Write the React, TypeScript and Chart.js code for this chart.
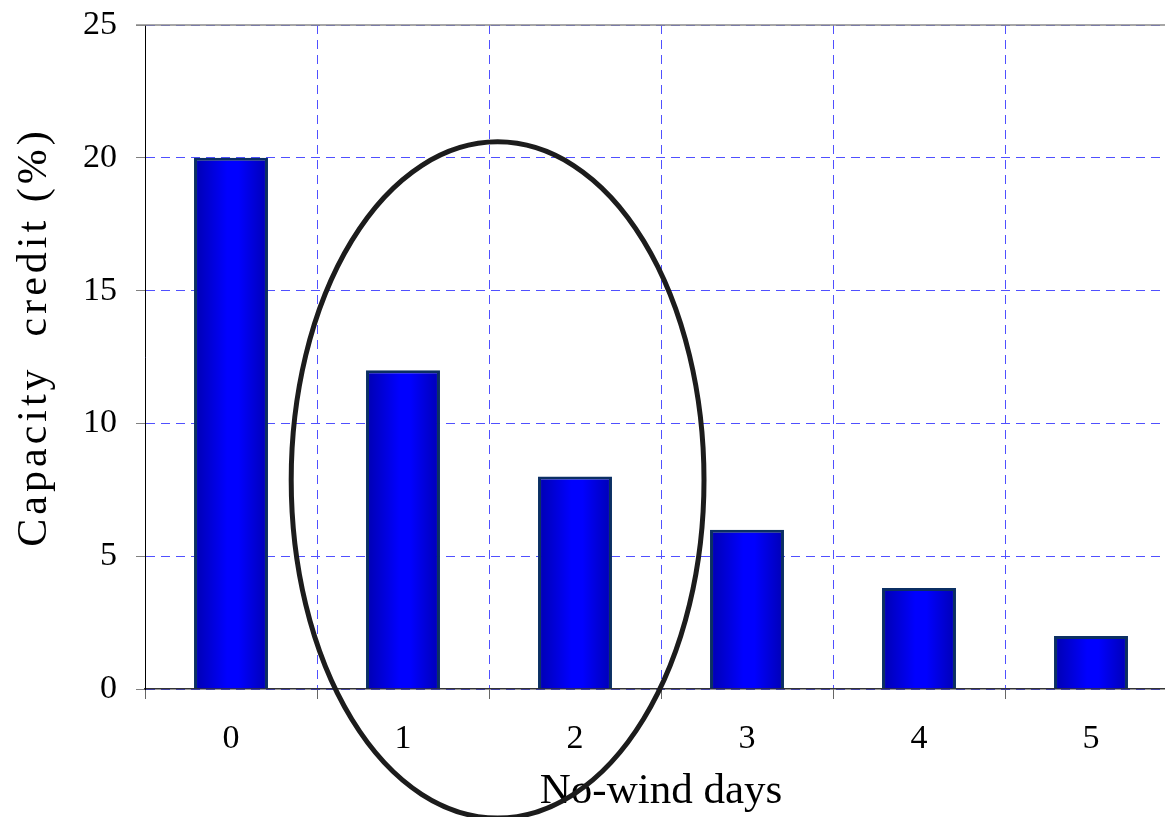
import React, { useEffect, useRef } from 'react';
import { Chart, registerables } from 'chart.js';

Chart.register(...registerables);

// ---- data ----
const CATEGORIES = ['0', '1', '2', '3', '4', '5'];
const CAPACITY_CREDIT = [20, 12, 8, 6, 3.8, 2];
const Y_TICKS = [0, 5, 10, 15, 20, 25];
const Y_TITLE = 'Capacity  credit (%)';
const X_TITLE = 'No-wind days';

// highlight ellipse, in data units (category index / percent)
const ELLIPSE_CENTER_X = 1.55;
const ELLIPSE_CENTER_Y = 7.87;
const ELLIPSE_RADIUS_X = 1.2;
const ELLIPSE_RADIUS_Y = 12.73;

const SERIF = "'Liberation Serif', 'Times New Roman', serif";
const BAR_PCT = 0.43;

export default function App() {
  const ref = useRef<HTMLCanvasElement>(null);

  useEffect(() => {
    const canvas = ref.current;
    if (!canvas) return;

    const overlay = {
      id: 'overlay',
      beforeDatasetsDraw(chart: any) {
        const { ctx, chartArea } = chart;
        ctx.save();
        ctx.strokeStyle = '#8a8a8a';
        ctx.lineWidth = 1.5;
        ctx.beginPath();
        ctx.moveTo(chartArea.left - 9, chartArea.top);
        ctx.lineTo(chartArea.right, chartArea.top);
        ctx.stroke();
        ctx.restore();
      },
      afterDraw(chart: any) {
        const { ctx } = chart;
        const xs = chart.scales.x;
        const ys = chart.scales.y;
        // rotated y title with letter spacing
        ctx.save();
        ctx.font = `42px ${SERIF}`;
        (ctx as any).letterSpacing = '4px';
        ctx.fillStyle = '#000';
        ctx.textAlign = 'center';
        ctx.textBaseline = 'middle';
        ctx.translate(35, 337);
        ctx.rotate(-Math.PI / 2);
        ctx.fillText(Y_TITLE, 0, 0);
        ctx.restore();

        // highlight ellipse
        const cx = xs.getPixelForValue(ELLIPSE_CENTER_X);
        const cy = ys.getPixelForValue(ELLIPSE_CENTER_Y);
        const rx = Math.abs(xs.getPixelForValue(ELLIPSE_CENTER_X + ELLIPSE_RADIUS_X) - cx);
        const ry = Math.abs(ys.getPixelForValue(ELLIPSE_CENTER_Y + ELLIPSE_RADIUS_Y) - cy);
        ctx.save();
        ctx.strokeStyle = '#1c1c1c';
        ctx.lineWidth = 5;
        ctx.beginPath();
        ctx.ellipse(cx, cy, rx, ry, 0, 0, Math.PI * 2);
        ctx.stroke();
        ctx.restore();
      },
    };

    const chart = new Chart(canvas, {
      type: 'bar',
      data: {
        labels: CATEGORIES,
        datasets: [
          {
            data: CAPACITY_CREDIT,
            barPercentage: BAR_PCT,
            categoryPercentage: 1,
            borderColor: '#0b2f63',
            borderWidth: 3,
            borderSkipped: 'bottom',
            backgroundColor: (c: any) => {
              const ch = c.chart;
              const xs = ch.scales && ch.scales.x;
              if (!ch.chartArea || !xs) return '#0000ff';
              const center = xs.getPixelForValue(c.dataIndex);
              const w = (xs.width / CATEGORIES.length) * BAR_PCT;
              const g = ch.ctx.createLinearGradient(center - w / 2, 0, center + w / 2, 0);
              g.addColorStop(0, '#0000b0');
              g.addColorStop(0.45, '#0000ff');
              g.addColorStop(0.6, '#0000ff');
              g.addColorStop(1, '#0000b4');
              return g;
            },
          },
        ],
      },
      options: {
        responsive: false,
        animation: false,
        devicePixelRatio: 1,
        layout: { padding: { top: 25, right: 23, bottom: 0, left: 0 } },
        plugins: {
          legend: { display: false },
          tooltip: { enabled: false },
          title: { display: false },
        },
        scales: {
          x: {
            type: 'category',
            offset: true,
            grid: {
              offset: true,
              color: '#5050ff',
              lineWidth: 1,
              drawTicks: true,
              tickLength: 10,
              tickColor: '#666666',
              tickWidth: 1,
              tickBorderDash: [],
            } as any,
            border: { display: true, color: '#333333', width: 1.5, dash: [9, 6] } as any,
            ticks: {
              color: '#000',
              font: { family: SERIF, size: 34 },
              padding: 20,
              maxRotation: 0,
            },
            title: {
              display: true,
              text: X_TITLE,
              color: '#000',
              font: { family: SERIF, size: 43, lineHeight: 1 },
              padding: { top: 0, bottom: 4 },
            },
            afterFit: (s: any) => {
              s.height = 128;
            },
          },
          y: {
            type: 'linear',
            min: 0,
            max: 25,
            afterBuildTicks: (s: any) => {
              s.ticks = Y_TICKS.map((v) => ({ value: v }));
            },
            grid: {
              color: '#5050ff',
              lineWidth: 1,
              drawTicks: true,
              tickLength: 9,
              tickColor: '#808080',
              tickWidth: 1,
              tickBorderDash: [],
            } as any,
            border: { display: true, color: '#000000', width: 1, dash: [9, 6] } as any,
            ticks: {
              color: '#000',
              font: { family: SERIF, size: 34 },
              padding: 19,
            },
            title: { display: false },
            afterFit: (s: any) => {
              s.width = 145;
              s.paddingTop = 0;
              s.paddingBottom = 0;
            },
          },
        },
      },
      plugins: [overlay],
    } as any);

    return () => chart.destroy();
  }, []);

  return (
    <div
      style={{
        position: 'absolute',
        left: 0,
        top: 0,
        width: 1165,
        height: 817,
        overflow: 'hidden',
        background: '#fff',
      }}
    >
      <canvas ref={ref} width={1200} height={817} style={{ display: 'block' }} />
    </div>
  );
}
